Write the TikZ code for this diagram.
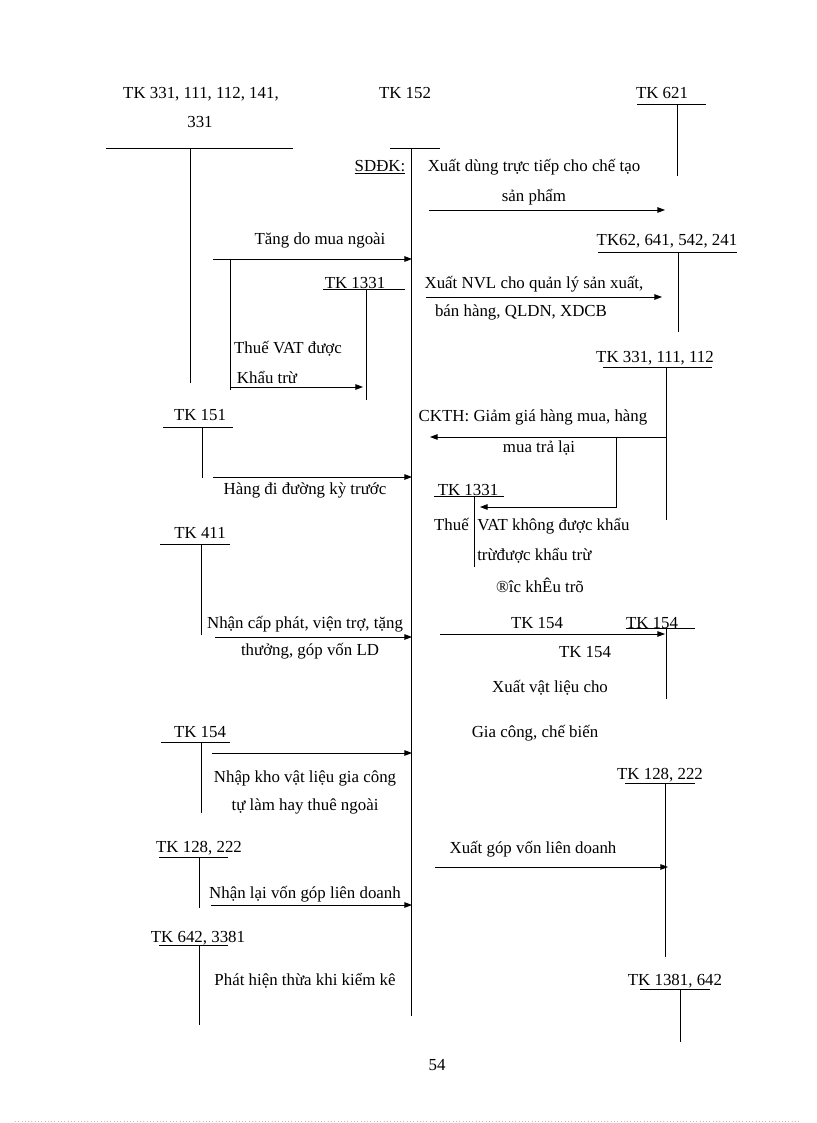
\documentclass[tikz,border=0pt]{standalone}
\usepackage{fontspec}
\setmainfont{Liberation Serif}
\usetikzlibrary{arrows.meta}
\begin{document}
\begin{tikzpicture}[x=0.7292pt,y=-0.7292pt,
  ln/.style={line width=0.6pt},
  arr/.style={line width=0.6pt,-{Triangle[length=5.5pt,width=4pt]}},
  lbl/.style={inner sep=0pt,font=\fontsize{12.3}{14}\selectfont,text height=10.5pt,text depth=2.4pt}]
\useasboundingbox (0,0) rectangle (816,1123);

% ---------- texts ----------
\node[lbl] (h1a) at (201,93) {TK 331, 111, 112, 141,};
\node[lbl] (h1b) at (200,122) {331};
\node[lbl] (h152) at (405,93) {TK 152};
\node[lbl] (h621) at (662,93) {TK 621};
\node[lbl] (sddk) at (380,166) {\underline{SDĐK:}};
\node[lbl] (x1a) at (534,166) {Xuất dùng trực tiếp cho chế tạo};
\node[lbl] (x1b) at (534,196) {sản phẩm};
\node[lbl] (h62) at (667,240) {TK62, 641, 542, 241};
\node[lbl] (x2a) at (534,283) {Xuất NVL cho quản lý sản xuất,};
\node[lbl] (x2b) at (521,311) {bán hàng, QLDN, XDCB};
\node[lbl] (tang) at (320,239) {Tăng do mua ngoài};
\node[lbl] (h1331a) at (355,283) {TK 1331};
\node[lbl] (vat1) at (288,348) {Thuế VAT được};
\node[lbl] (vat2) at (267,378) {Khẩu trừ};
\node[lbl] (h331r) at (655,357) {TK 331, 111, 112};
\node[lbl] (ck1) at (533,416) {CKTH: Giảm giá hàng mua, hàng};
\node[lbl] (ck2) at (539,447) {mua trả lại};
\node[lbl] (h1331b) at (468,490) {TK 1331};
\node[lbl,anchor=east] (th1) at (469,525) {Thuế};
\node[lbl,anchor=west] (th2) at (477,525) {VAT không được khẩu};
\node[lbl,anchor=west] (th3) at (477,555) {trừđược khẩu trừ};
\node[lbl] (th4) at (540,587) {®îc  khÊu trõ};
\node[lbl] (h151) at (200,415) {TK 151};
\node[lbl] (hdd) at (305,489) {Hàng đi đường kỳ trước};
\node[lbl] (h411) at (200,533) {TK 411};
\node[lbl] (nc1) at (305,623) {Nhận cấp phát, viện trợ, tặng};
\node[lbl] (nc2) at (310,650) {thưởng, góp vốn LD};
\node[lbl] (h154m) at (537,623) {TK 154};
\node[lbl] (h154r) at (652,623) {TK 154};
\node[lbl] (h154c) at (585,652) {TK 154};
\node[lbl] (xv1) at (550,687) {Xuất vật liệu cho};
\node[lbl] (xv2) at (535,732) {Gia công, chế biến};
\node[lbl] (h154l) at (200,732) {TK 154};
\node[lbl] (nk1) at (305,777) {Nhập kho vật liệu gia công};
\node[lbl] (nk2) at (305,805) {tự làm hay thuê ngoài};
\node[lbl] (h128l) at (199,847) {TK 128, 222};
\node[lbl] (nl) at (305,893) {Nhận lại vốn góp liên doanh};
\node[lbl] (h642) at (198,937) {TK 642, 3381};
\node[lbl] (ph) at (305,980) {Phát hiện thừa khi kiểm kê};
\node[lbl] (h128r) at (660,774) {TK 128, 222};
\node[lbl] (xg) at (533,848) {Xuất góp vốn liên doanh};
\node[lbl] (h1381) at (675,980) {TK 1381, 642};
\node[lbl] (pg) at (437,1065) {54};

% ---------- T accounts ----------
\draw[ln] (106,148) -- (293,148) (190,148) -- (190,383);
\draw[ln] (390,148) -- (440,148) (411,148) -- (411,1016);
\draw[ln] (637,104) -- (706,104) (677,104) -- (677,176);
\draw[ln] (598,252) -- (737,252) (678,252) -- (678,332);
\draw[ln] (230,259) -- (230,390);
\draw[ln] (323,289) -- (405,289) (366,289) -- (366,400);
\draw[ln] (603,367) -- (712,367) (666,367) -- (666,520);
\draw[ln] (434,496) -- (504,496) (474,496) -- (474,567);
\draw[ln] (163,427) -- (233,427) (202,427) -- (202,478);
\draw[ln] (160,544) -- (230,544) (201,544) -- (201,635);
\draw[ln] (626,628) -- (695,628) (666,628) -- (666,699);
\draw[ln] (161,742) -- (230,742) (201,742) -- (201,813);
\draw[ln] (159,857) -- (228,857) (199,857) -- (199,908);
\draw[ln] (159,945) -- (228,945) (199,945) -- (199,1025);
\draw[ln] (625,783) -- (695,783) (665,783) -- (665,957);
\draw[ln] (640,989) -- (710,989) (680,989) -- (680,1042);

% ---------- arrows ----------
\coordinate (a1s) at (429,210); \coordinate (a1e) at (665,210);
\coordinate (a2s) at (426,297); \coordinate (a2e) at (662,297);
\coordinate (a3s) at (213,259); \coordinate (a3e) at (412,259);
\coordinate (a4s) at (230,387); \coordinate (a4e) at (363,387);
\coordinate (a5s) at (666,437); \coordinate (a5e) at (430,437);
\coordinate (a6s) at (616,437); \coordinate (a6m) at (616,507); \coordinate (a6e) at (480,507);
\coordinate (a7s) at (213,477); \coordinate (a7e) at (412,477);
\coordinate (a8s) at (215,637); \coordinate (a8e) at (412,637);
\coordinate (a9s) at (440,634); \coordinate (a9e) at (665,634);
\coordinate (a10s) at (212,753); \coordinate (a10e) at (412,753);
\coordinate (a11s) at (211,905); \coordinate (a11e) at (412,905);
\coordinate (a12s) at (435,867); \coordinate (a12e) at (668,867);
\draw[arr] (a1s) -- (a1e);
\draw[arr] (a2s) -- (a2e);
\draw[arr] (a3s) -- (a3e);
\draw[arr] (a4s) -- (a4e);
\draw[arr] (a5s) -- (a5e);
\draw[arr] (a6s) -- (a6m) -- (a6e);
\draw[arr] (a7s) -- (a7e);
\draw[arr] (a8s) -- (a8e);
\draw[arr] (a9s) -- (a9e);
\draw[arr] (a10s) -- (a10e);
\draw[arr] (a11s) -- (a11e);
\draw[arr] (a12s) -- (a12e);

% bottom dotted rule
\draw[line width=0.4pt,gray!50,dotted] (15,1121) -- (800,1121);
\end{tikzpicture}
\end{document}
